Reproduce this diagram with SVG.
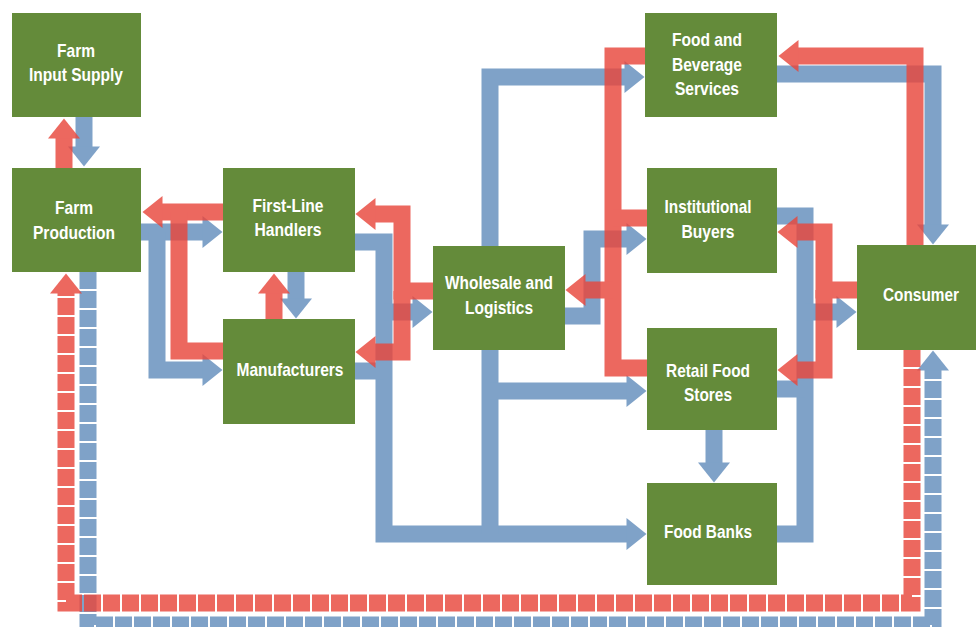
<svg xmlns="http://www.w3.org/2000/svg" width="976" height="627" viewBox="0 0 976 627">
<style>
.node{fill:#648B3A}
.lbl{font-family:'Liberation Sans Narrow','Arial Narrow','Liberation Sans',sans-serif;font-weight:bold;font-size:19px;fill:#ffffff;text-anchor:middle}
.b{fill:none;stroke:#7FA2C8;stroke-width:17;stroke-linejoin:miter;marker-end:url(#ahb)}
.bn{fill:none;stroke:#7FA2C8;stroke-width:17;stroke-linejoin:miter}
.r{fill:none;stroke:#E8473C;stroke-width:17;stroke-linejoin:miter;marker-end:url(#ahr)}
.rn{fill:none;stroke:#E8473C;stroke-width:17;stroke-linejoin:miter}
.dash{stroke-dasharray:17 2}
</style>
<defs>
<marker id="ahb" markerUnits="userSpaceOnUse" markerWidth="24" markerHeight="36" viewBox="0 -18 24 36" refX="0.5" refY="0" orient="auto" overflow="visible"><path d="M0,-16 L20,0 L0,16 Z" fill="#7FA2C8"/></marker>
<marker id="ahr" markerUnits="userSpaceOnUse" markerWidth="24" markerHeight="36" viewBox="0 -18 24 36" refX="0.5" refY="0" orient="auto" overflow="visible"><path d="M0,-16 L20,0 L0,16 Z" fill="#E8473C"/></marker>
</defs>
<rect width="976" height="627" fill="#ffffff"/>
<g id="connectors">
<g id="blue-flows">
<path class="b" d="M84,117 V147"/>
<path class="b" d="M141,232 H203"/>
<path class="b" d="M157,232 V370 H203"/>
<path class="b" d="M296,272 V299"/>
<path class="b" d="M355,242 H384 V534 H627"/>
<path class="bn" d="M355,371 H384"/>
<path class="b" d="M384,312 H413"/>
<path class="bn" d="M490,350 V534"/>
<path class="b" d="M490,391 H627"/>
<path class="b" d="M490,246 V77 H625"/>
<path class="b" d="M565,316 H592 V239 H627"/>
<path class="bn" d="M777,216 H805 V534 H777"/>
<path class="bn" d="M777,389 H805"/>
<path class="b" d="M805,312 H837"/>
<path class="b" d="M777,74 H933 V225"/>
<path class="b" d="M714,430 V463"/>
<path class="b dash" d="M88,272 V625 H933 V370"/>
</g>
<g id="red-flows" opacity="0.82">
<path class="r" d="M64,168 V138"/>
<path class="r" d="M223,212 H162"/>
<path class="rn" d="M223,351 H179 V212"/>
<path class="r" d="M274,319 V293"/>
<path class="r" d="M433,291 H402 V214 H375"/>
<path class="r" d="M402,291 V352 H375"/>
<path class="rn" d="M647,56 H613 V368 H647"/>
<path class="rn" d="M647,218 H613"/>
<path class="r" d="M613,290 H585"/>
<path class="r" d="M857,290 H824 V232 H797"/>
<path class="r" d="M824,290 V370 H797"/>
<path class="r" d="M915,245 V56 H798"/>
<path class="r dash" d="M912,350 V603 H66 V293"/>
</g>
</g>
<g id="farm-input-supply"><rect class="node" x="12" y="13" width="129" height="104"/><text class="lbl" x="76" y="57" textLength="38" lengthAdjust="spacingAndGlyphs">Farm</text><text class="lbl" x="76" y="81" textLength="94" lengthAdjust="spacingAndGlyphs">Input Supply</text></g>
<g id="farm-production"><rect class="node" x="12" y="168" width="129" height="104"/><text class="lbl" x="74" y="214" textLength="38" lengthAdjust="spacingAndGlyphs">Farm</text><text class="lbl" x="74" y="239" textLength="82" lengthAdjust="spacingAndGlyphs">Production</text></g>
<g id="first-line-handlers"><rect class="node" x="223" y="168" width="132" height="104"/><text class="lbl" x="288" y="212" textLength="71" lengthAdjust="spacingAndGlyphs">First-Line</text><text class="lbl" x="288" y="236" textLength="67" lengthAdjust="spacingAndGlyphs">Handlers</text></g>
<g id="manufacturers"><rect class="node" x="223" y="319" width="132" height="105"/><text class="lbl" x="290" y="376" textLength="107" lengthAdjust="spacingAndGlyphs">Manufacturers</text></g>
<g id="wholesale-logistics"><rect class="node" x="433" y="246" width="132" height="104"/><text class="lbl" x="499" y="289" textLength="108" lengthAdjust="spacingAndGlyphs">Wholesale and</text><text class="lbl" x="499" y="314" textLength="68" lengthAdjust="spacingAndGlyphs">Logistics</text></g>
<g id="food-beverage-services"><rect class="node" x="645" y="13" width="132" height="104"/><text class="lbl" x="707" y="46" textLength="70" lengthAdjust="spacingAndGlyphs">Food and</text><text class="lbl" x="707" y="71" textLength="70" lengthAdjust="spacingAndGlyphs">Beverage</text><text class="lbl" x="707" y="95" textLength="64" lengthAdjust="spacingAndGlyphs">Services</text></g>
<g id="institutional-buyers"><rect class="node" x="647" y="168" width="130" height="105"/><text class="lbl" x="708" y="213" textLength="87" lengthAdjust="spacingAndGlyphs">Institutional</text><text class="lbl" x="708" y="238" textLength="53" lengthAdjust="spacingAndGlyphs">Buyers</text></g>
<g id="retail-food-stores"><rect class="node" x="647" y="328" width="130" height="102"/><text class="lbl" x="708" y="377" textLength="84" lengthAdjust="spacingAndGlyphs">Retail Food</text><text class="lbl" x="708" y="401" textLength="48" lengthAdjust="spacingAndGlyphs">Stores</text></g>
<g id="food-banks"><rect class="node" x="647" y="483" width="130" height="102"/><text class="lbl" x="708" y="538" textLength="88" lengthAdjust="spacingAndGlyphs">Food Banks</text></g>
<g id="consumer"><rect class="node" x="857" y="245" width="119" height="105"/><text class="lbl" x="921" y="301" textLength="76" lengthAdjust="spacingAndGlyphs">Consumer</text></g>
</svg>
